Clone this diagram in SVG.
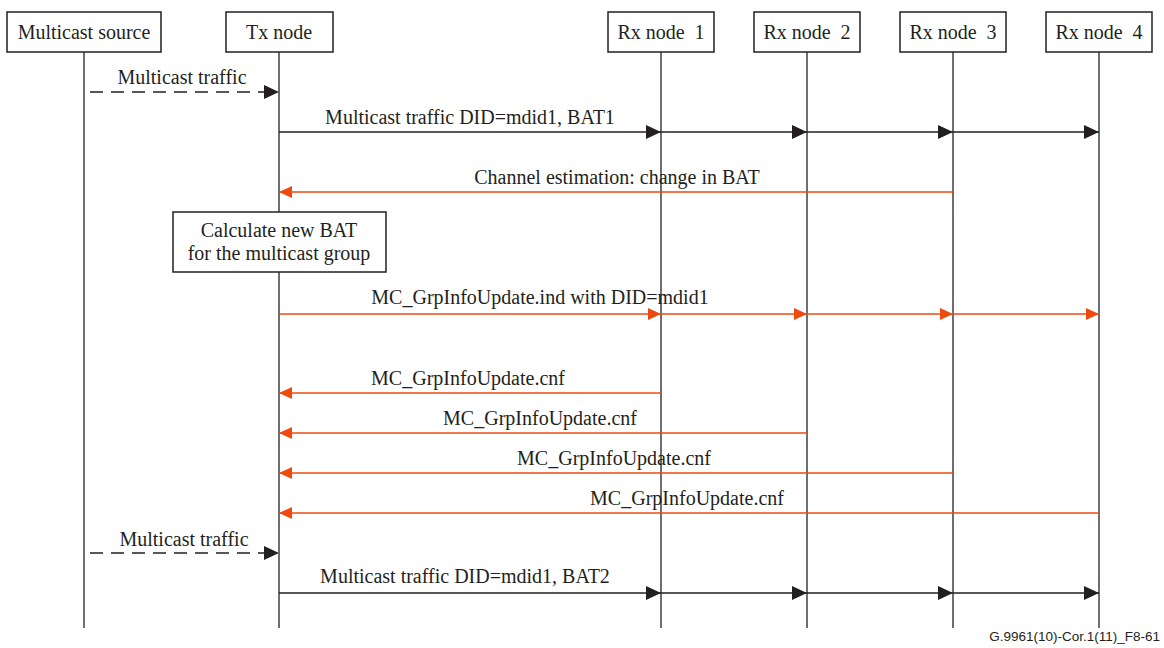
<svg xmlns="http://www.w3.org/2000/svg" width="1164" height="648" viewBox="0 0 1164 648">
<style>
.box{fill:#fff;stroke:#231f20;stroke-width:1.5}
.life{stroke:#231f20;stroke-width:1.3;fill:none}
.t{font-family:"Liberation Serif","Times New Roman",serif;font-size:20px;fill:#231f20}
.blk{stroke:#231f20;stroke-width:1.3;fill:none}
.red{stroke:#ee4a10;stroke-width:1.5;fill:none}
.dash{stroke-dasharray:13 8}
.foot{font-family:"Liberation Sans",Arial,sans-serif;font-size:13.5px;fill:#231f20}
</style>
<defs>
<marker id="ab" markerUnits="userSpaceOnUse" markerWidth="16" markerHeight="14" refX="15" refY="7" orient="auto"><path d="M0,0 L15,7 L0,14 Z" fill="#231f20"/></marker>
<marker id="ar" markerUnits="userSpaceOnUse" markerWidth="14" markerHeight="12" refX="13" refY="6" orient="auto"><path d="M0,0 L13,6 L0,12 Z" fill="#ee4a10"/></marker>
</defs>
<rect width="1164" height="648" fill="#fff"/>
<g id="lifelines">
<line class="life" x1="84" y1="52" x2="84" y2="628"/>
<line class="life" x1="279" y1="52" x2="279" y2="628"/>
<line class="life" x1="661" y1="52" x2="661" y2="628"/>
<line class="life" x1="807" y1="52" x2="807" y2="628"/>
<line class="life" x1="953" y1="52" x2="953" y2="628"/>
<line class="life" x1="1099" y1="52" x2="1099" y2="628"/>
</g>
<g id="n_src"><rect class="box" x="7" y="12" width="154" height="40"/><text class="t" x="84" y="39" text-anchor="middle">Multicast source</text></g>
<g id="n_tx"><rect class="box" x="226" y="12" width="107" height="40"/><text class="t" x="279" y="39" text-anchor="middle">Tx node</text></g>
<g id="n_rx1"><rect class="box" x="608" y="12" width="106" height="40"/><text class="t" x="661" y="39" text-anchor="middle" xml:space="preserve">Rx node  1</text></g>
<g id="n_rx2"><rect class="box" x="754" y="12" width="106" height="40"/><text class="t" x="807" y="39" text-anchor="middle" xml:space="preserve">Rx node  2</text></g>
<g id="n_rx3"><rect class="box" x="900" y="12" width="106" height="40"/><text class="t" x="953" y="39" text-anchor="middle" xml:space="preserve">Rx node  3</text></g>
<g id="n_rx4"><rect class="box" x="1046" y="12" width="106" height="40"/><text class="t" x="1099" y="39" text-anchor="middle" xml:space="preserve">Rx node  4</text></g>
<g id="n_calc"><rect class="box" x="173" y="212" width="213" height="60"/><text class="t" x="279" y="237" text-anchor="middle">Calculate new BAT</text><text class="t" x="279" y="260" text-anchor="middle">for the multicast group</text></g>
<g id="connectors">
<line class="blk dash" x1="90" y1="92" x2="279" y2="92" marker-end="url(#ab)"/>
<text class="t" x="182" y="84" text-anchor="middle">Multicast traffic</text>
<line class="blk" x1="279" y1="132" x2="661" y2="132" marker-end="url(#ab)"/>
<line class="blk" x1="661" y1="132" x2="807" y2="132" marker-end="url(#ab)"/>
<line class="blk" x1="807" y1="132" x2="953" y2="132" marker-end="url(#ab)"/>
<line class="blk" x1="953" y1="132" x2="1099" y2="132" marker-end="url(#ab)"/>
<text class="t" x="470" y="124" text-anchor="middle">Multicast traffic DID=mdid1, BAT1</text>
<line class="red" x1="953" y1="192" x2="279" y2="192" marker-end="url(#ar)"/>
<text class="t" x="617" y="184" text-anchor="middle">Channel estimation: change in BAT</text>
<line class="red" x1="279" y1="314" x2="661" y2="314" marker-end="url(#ar)"/>
<line class="red" x1="661" y1="314" x2="807" y2="314" marker-end="url(#ar)"/>
<line class="red" x1="807" y1="314" x2="953" y2="314" marker-end="url(#ar)"/>
<line class="red" x1="953" y1="314" x2="1099" y2="314" marker-end="url(#ar)"/>
<text class="t" x="540" y="304" text-anchor="middle">MC_GrpInfoUpdate.ind with DID=mdid1</text>
<line class="red" x1="661" y1="393" x2="279" y2="393" marker-end="url(#ar)"/>
<text class="t" x="468" y="385" text-anchor="middle">MC_GrpInfoUpdate.cnf</text>
<line class="red" x1="807" y1="433" x2="279" y2="433" marker-end="url(#ar)"/>
<text class="t" x="540" y="425" text-anchor="middle">MC_GrpInfoUpdate.cnf</text>
<line class="red" x1="953" y1="473" x2="279" y2="473" marker-end="url(#ar)"/>
<text class="t" x="614" y="465" text-anchor="middle">MC_GrpInfoUpdate.cnf</text>
<line class="red" x1="1099" y1="513" x2="279" y2="513" marker-end="url(#ar)"/>
<text class="t" x="687" y="505" text-anchor="middle">MC_GrpInfoUpdate.cnf</text>
<line class="blk dash" x1="90" y1="553" x2="279" y2="553" marker-end="url(#ab)"/>
<text class="t" x="184" y="546" text-anchor="middle">Multicast traffic</text>
<line class="blk" x1="279" y1="593" x2="661" y2="593" marker-end="url(#ab)"/>
<line class="blk" x1="661" y1="593" x2="807" y2="593" marker-end="url(#ab)"/>
<line class="blk" x1="807" y1="593" x2="953" y2="593" marker-end="url(#ab)"/>
<line class="blk" x1="953" y1="593" x2="1099" y2="593" marker-end="url(#ab)"/>
<text class="t" x="465" y="583" text-anchor="middle">Multicast traffic DID=mdid1, BAT2</text>
</g>
<text class="foot" x="1160" y="641" text-anchor="end">G.9961(10)-Cor.1(11)_F8-61</text>
</svg>
